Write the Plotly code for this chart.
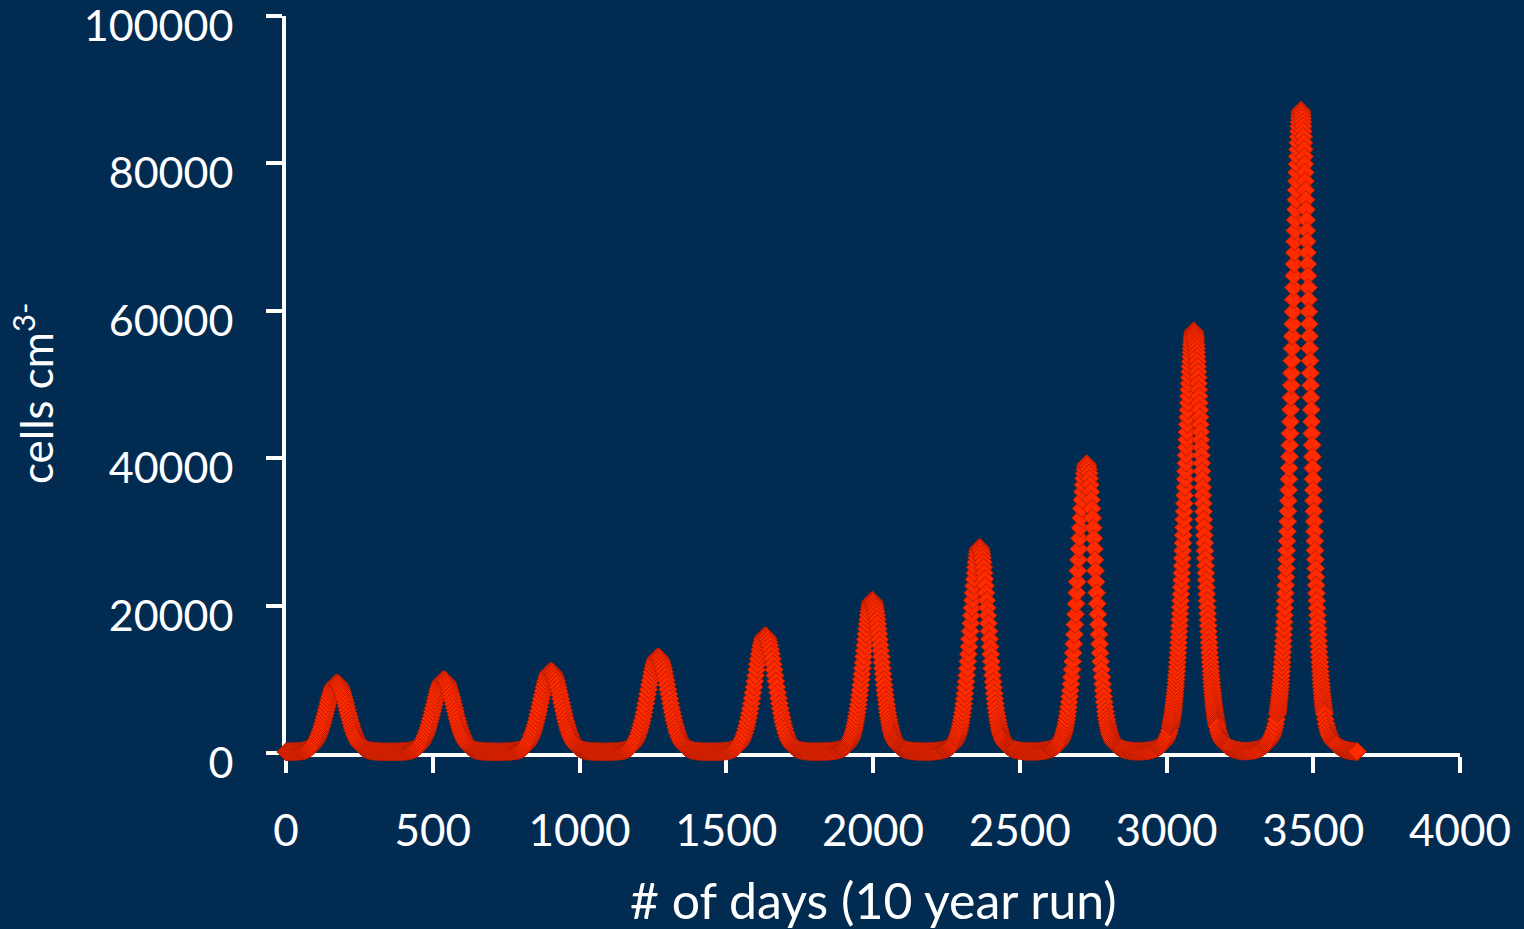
import plotly.graph_objects as go

# ---------------- data ----------------
# day of each yearly bloom peak
peak_days = [173, 538, 903, 1268, 1633, 1998, 2363, 2728, 3093, 3458]

# day offsets (relative to each peak) at which the curve was read
wide_offsets = list(range(-122, -69, 4)) + list(range(-66, 67, 3)) + list(range(70, 123, 4))
step2_offsets = list(range(-122, -82, 3)) + list(range(-80, 81, 2)) + list(range(83, 123, 3))
daily_offsets = list(range(-122, -82, 3)) + list(range(-80, 81, 1)) + list(range(83, 123, 3))

# cells cm-3, between blooms (every 5 days)
baseline_start = [160, 165, 170, 175, 180, 185, 195, 205, 220, 235, 260]
gap1_cells = [240, 225, 210, 200, 190, 180, 175, 170, 170, 165, 165, 165, 165, 165, 170, 170, 175, 180, 190, 200, 210, 225, 240, 265]
gap2_cells = [245, 225, 215, 200, 190, 185, 180, 175, 170, 170, 165, 165, 165, 170, 170, 175, 180, 185, 195, 205, 215, 235, 255, 280]
gap3_cells = [255, 235, 220, 205, 195, 185, 180, 175, 175, 170, 170, 170, 170, 170, 175, 180, 185, 190, 200, 215, 230, 245, 270, 300]
gap4_cells = [275, 250, 230, 215, 205, 195, 185, 180, 175, 175, 175, 170, 175, 175, 180, 185, 190, 200, 215, 230, 245, 270, 300, 335]
gap5_cells = [305, 275, 250, 230, 215, 205, 195, 190, 185, 180, 180, 180, 180, 185, 190, 195, 205, 215, 230, 245, 270, 290, 320, 355]
gap6_cells = [325, 295, 275, 250, 235, 220, 210, 200, 195, 190, 190, 190, 190, 195, 200, 210, 225, 240, 260, 280, 310, 340, 380, 430]
gap7_cells = [390, 350, 315, 290, 265, 245, 230, 220, 210, 205, 200, 200, 205, 210, 220, 235, 255, 275, 305, 335, 375, 420, 475, 540]
gap8_cells = [485, 430, 385, 345, 310, 285, 265, 245, 235, 225, 225, 225, 230, 240, 255, 275, 300, 335, 375, 420, 475, 545, 625, 720]
gap9_cells = [640, 560, 490, 435, 385, 350, 315, 290, 275, 265, 260, 260, 270, 285, 310, 340, 380, 430, 490, 560, 650, 750, 875, 1020]
baseline_end = [890, 770, 665, 575, 495, 430, 375, 330, 295, 265, 240, 220, 205, 190]

# cells cm-3 around each bloom
bloom1_cells = [260, 290, 320, 350, 390, 450, 520, 600, 710, 840, 1000, 1190, 1420, 1690,
    2010, 2280, 2580, 2910, 3260, 3640, 4050, 4470, 4920, 5370, 5840, 6300, 6760, 7210, 7630,
    8030, 8390, 8710, 8980, 9200, 9360, 9460, 9490, 9460, 9360, 9200, 8980, 8710, 8390, 8030,
    7630, 7210, 6760, 6300, 5840, 5370, 4920, 4470, 4050, 3640, 3260, 2910, 2580, 2280, 2010,
    1690, 1420, 1190, 1000, 840, 710, 600, 520, 450, 390, 350, 320, 290, 260]
bloom2_cells = [270, 290, 320, 360, 410, 460, 540, 620, 730, 870, 1040, 1240, 1480, 1770,
    2100, 2380, 2700, 3040, 3410, 3810, 4240, 4680, 5150, 5630, 6110, 6600, 7080, 7550, 7990,
    8410, 8790, 9130, 9410, 9640, 9800, 9910, 9940, 9910, 9800, 9640, 9410, 9130, 8790, 8410,
    7990, 7550, 7080, 6600, 6110, 5630, 5150, 4680, 4240, 3810, 3410, 3040, 2700, 2380, 2100,
    1770, 1480, 1240, 1040, 870, 730, 620, 540, 460, 410, 360, 320, 290, 270]
bloom3_cells = [280, 310, 340, 380, 440, 500, 580, 680, 800, 950, 1140, 1360, 1630, 1950,
    2330, 2640, 2990, 3380, 3790, 4240, 4710, 5210, 5730, 6260, 6810, 7350, 7890, 8410, 8910,
    9370, 9800, 10170, 10490, 10740, 10930, 11040, 11080, 11040, 10930, 10740, 10490, 10170, 9800, 9370,
    8910, 8410, 7890, 7350, 6810, 6260, 5730, 5210, 4710, 4240, 3790, 3380, 2990, 2640, 2330,
    1950, 1630, 1360, 1140, 950, 800, 680, 580, 500, 440, 380, 340, 310, 280]
bloom4_cells = [310, 340, 380, 430, 490, 560, 660, 770, 920, 1100, 1320, 1580, 1900, 2270,
    2710, 3090, 3500, 3950, 4440, 4960, 5520, 6110, 6720, 7350, 7990, 8630, 9260, 9870, 10460,
    11010, 11510, 11950, 12320, 12620, 12840, 12980, 13020, 12980, 12840, 12620, 12320, 11950, 11510, 11010,
    10460, 9870, 9260, 8630, 7990, 7350, 6720, 6110, 5520, 4960, 4440, 3950, 3500, 3090, 2710,
    2270, 1900, 1580, 1320, 1100, 920, 770, 660, 560, 490, 430, 380, 340, 310]
bloom5_cells = [340, 380, 430, 490, 560, 650, 770, 910, 1090, 1310, 1580, 1900, 2290, 2750,
    3290, 3740, 4250, 4800, 5400, 6040, 6720, 7440, 8190, 8960, 9740, 10520, 11300, 12050, 12770,
    13440, 14050, 14590, 15050, 15410, 15680, 15850, 15900, 15850, 15680, 15410, 15050, 14590, 14050, 13440,
    12770, 12050, 11300, 10520, 9740, 8960, 8190, 7440, 6720, 6040, 5400, 4800, 4250, 3740, 3290,
    2750, 2290, 1900, 1580, 1310, 1090, 910, 770, 650, 560, 490, 430, 380, 340]
bloom6_cells = [360, 390, 410, 440, 480, 520, 560, 610, 670, 740, 830, 930, 1050, 1190,
    1370, 1500, 1650, 1820, 2010, 2230, 2460, 2730, 3020, 3350,
    3710, 4100, 4520, 4990, 5490, 6030, 6600, 7210, 7860, 8530,
    9240, 9970, 10730, 11500, 12280, 13070, 13860, 14630, 15400, 16140,
    16840, 17510, 18140, 18710, 19210, 19660, 20030, 20320, 20530, 20660,
    20700,
    20660, 20530, 20320, 20030, 19660, 19210, 18710, 18140, 17510, 16840,
    16140, 15400, 14630, 13860, 13070, 12280, 11500, 10730, 9970, 9240,
    8530, 7860, 7210, 6600, 6030, 5490, 4990, 4520, 4100, 3710,
    3350, 3020, 2730, 2460, 2230, 2010, 1820, 1650, 1500, 1370,
    1190, 1050, 930, 830, 740, 670, 610, 560, 520, 480, 440, 410, 390, 360]
bloom7_cells = [440, 470, 510, 550, 590, 650, 710, 780, 860, 950, 1070, 1200, 1360, 1560,
    1790, 1970, 2180, 2410, 2660, 2950, 3270, 3630, 4030, 4470,
    4950, 5480, 6060, 6680, 7360, 8080, 8860, 9680, 10550, 11470,
    12420, 13410, 14430, 15470, 16520, 17590, 18650, 19700, 20730, 21730,
    22680, 23590, 24430, 25200, 25880, 26480, 26980, 27370, 27660, 27830,
    27890,
    27830, 27660, 27370, 26980, 26480, 25880, 25200, 24430, 23590, 22680,
    21730, 20730, 19700, 18650, 17590, 16520, 15470, 14430, 13410, 12420,
    11470, 10550, 9680, 8860, 8080, 7360, 6680, 6060, 5480, 4950,
    4470, 4030, 3630, 3270, 2950, 2660, 2410, 2180, 1970, 1790,
    1560, 1360, 1200, 1070, 950, 860, 780, 710, 650, 590, 550, 510, 470, 440]
bloom8_cells = [550, 600, 650, 710, 780, 850, 930, 1030, 1150, 1280, 1440, 1630, 1860, 2130,
    2460, 2720, 3000, 3330, 3690, 4100, 4550, 5050, 5610, 6230,
    6910, 7660, 8470, 9350, 10300, 11320, 12420, 13580, 14800, 16090,
    17430, 18830, 20260, 21730, 23220, 24720, 26210, 27690, 29140, 30550,
    31900, 33170, 34360, 35440, 36400, 37240, 37950, 38500, 38910, 39150,
    39230,
    39150, 38910, 38500, 37950, 37240, 36400, 35440, 34360, 33170, 31900,
    30550, 29140, 27690, 26210, 24720, 23220, 21730, 20260, 18830, 17430,
    16090, 14800, 13580, 12420, 11320, 10300, 9350, 8470, 7660, 6910,
    6230, 5610, 5050, 4550, 4100, 3690, 3330, 3000, 2720, 2460,
    2130, 1860, 1630, 1440, 1280, 1150, 1030, 930, 850, 780, 710, 650, 600, 550]
bloom9_cells = [740, 810, 880, 970, 1060, 1170, 1300, 1440, 1610, 1800, 2040, 2310, 2650, 3050,
    3530, 3710, 3900, 4100, 4320, 4550, 4790, 5050, 5320, 5610,
    5920, 6240, 6580, 6940, 7320, 7720, 8130, 8580, 9040, 9520,
    10030, 10560, 11120, 11700, 12310, 12940, 13600, 14280, 14990, 15720,
    16480, 17270, 18080, 18910, 19770, 20660, 21560, 22490, 23450, 24420,
    25410, 26420, 27440, 28490, 29540, 30610, 31680, 32770, 33860, 34950,
    36050, 37150, 38240, 39320, 40400, 41470, 42520, 43560, 44580, 45570,
    46540, 47490, 48400, 49290, 50140, 50950, 51720, 52440, 53130, 53770,
    54360, 54900, 55380, 55820, 56200, 56520, 56790, 56990, 57140, 57230,
    57260,
    57230, 57140, 56990, 56790, 56520, 56200, 55820, 55380, 54900, 54360,
    53770, 53130, 52440, 51720, 50950, 50140, 49290, 48400, 47490, 46540,
    45570, 44580, 43560, 42520, 41470, 40400, 39320, 38240, 37150, 36050,
    34950, 33860, 32770, 31680, 30610, 29540, 28490, 27440, 26420, 25410,
    24420, 23450, 22490, 21560, 20660, 19770, 18910, 18080, 17270, 16480,
    15720, 14990, 14280, 13600, 12940, 12310, 11700, 11120, 10560, 10030,
    9520, 9040, 8580, 8130, 7720, 7320, 6940, 6580, 6240, 5920,
    5610, 5320, 5050, 4790, 4550, 4320, 4100, 3900, 3710, 3530,
    3050, 2650, 2310, 2040, 1800, 1610, 1440, 1300, 1170, 1060, 970, 880, 810, 740]
bloom10_cells = [1050, 1150, 1270, 1400, 1540, 1710, 1900, 2120, 2370, 2670, 3030, 3450, 3960, 4570,
    5300, 5580, 5870, 6180, 6510, 6860, 7230, 7620, 8040, 8480,
    8940, 9430, 9950, 10500, 11080, 11690, 12320, 13000, 13700, 14440,
    15220, 16030, 16880, 17760, 18690, 19650, 20650, 21690, 22770, 23890,
    25050, 26250, 27480, 28760, 30070, 31420, 32800, 34220, 35670, 37150,
    38660, 40200, 41770, 43360, 44960, 46590, 48230, 49890, 51550, 53220,
    54890, 56560, 58220, 59880, 61520, 63150, 64760, 66340, 67890, 69410,
    70890, 72330, 73730, 75070, 76370, 77600, 78780, 79890, 80930, 81910,
    82810, 83630, 84370, 85030, 85610, 86100, 86510, 86820, 87050, 87180,
    87230,
    87180, 87050, 86820, 86510, 86100, 85610, 85030, 84370, 83630, 82810,
    81910, 80930, 79890, 78780, 77600, 76370, 75070, 73730, 72330, 70890,
    69410, 67890, 66340, 64760, 63150, 61520, 59880, 58220, 56560, 54890,
    53220, 51550, 49890, 48230, 46590, 44960, 43360, 41770, 40200, 38660,
    37150, 35670, 34220, 32800, 31420, 30070, 28760, 27480, 26250, 25050,
    23890, 22770, 21690, 20650, 19650, 18690, 17760, 16880, 16030, 15220,
    14440, 13700, 13000, 12320, 11690, 11080, 10500, 9950, 9430, 8940,
    8480, 8040, 7620, 7230, 6860, 6510, 6180, 5870, 5580, 5300,
    4570, 3960, 3450, 3030, 2670, 2370, 2120, 1900, 1710, 1540, 1400, 1270, 1150, 1050]

x_tick_vals = [0, 500, 1000, 1500, 2000, 2500, 3000, 3500, 4000]
x_tick_text = ["0", "500", "1000", "1500", "2000", "2500", "3000", "3500", "4000"]
y_tick_vals = [0, 20000, 40000, 60000, 80000, 100000]
y_tick_text = ["0", "20000", "40000", "60000", "80000", "100000"]

# ---------------- assemble the daily series ----------------
bloom_cells = [bloom1_cells, bloom2_cells, bloom3_cells, bloom4_cells, bloom5_cells,
               bloom6_cells, bloom7_cells, bloom8_cells, bloom9_cells, bloom10_cells]
bloom_offsets = [wide_offsets] * 5 + [step2_offsets] * 3 + [daily_offsets] * 2
gap_cells = [gap1_cells, gap2_cells, gap3_cells, gap4_cells, gap5_cells,
             gap6_cells, gap7_cells, gap8_cells, gap9_cells]

segments = [(list(range(0, 51, 5)), baseline_start)]
for k in range(10):
    segments.append(([peak_days[k] + o for o in bloom_offsets[k]], bloom_cells[k]))
    if k < 9:
        segments.append((list(range(peak_days[k] + 127, peak_days[k + 1] - 122, 5)), gap_cells[k]))
segments.append((list(range(peak_days[9] + 127, 3651, 5)), baseline_end))

days, cells = [], []
for i, (d, c) in enumerate(segments):
    if len(d) != len(c):
        raise ValueError(f"segment {i}: {len(d)} days vs {len(c)} values")
    days += d
    cells += c

# ---------------- figure ----------------
BG = "#022b52"
FONT = "Lato, 'Open Sans', sans-serif"

fig = go.Figure(go.Scatter(
    x=days, y=cells, mode="markers", cliponaxis=False, hoverinfo="skip",
    marker=dict(symbol="diamond", size=14, color="#ff2a00",
                line=dict(color="#b81c00", width=1)),
))

axis_common = dict(
    showline=True, linewidth=4, linecolor="white",
    ticks="outside", ticklen=16, tickwidth=4, tickcolor="white",
    showgrid=False, zeroline=False, layer="below traces",
    ticklabeloverflow="allow", automargin=False,
)
fig.update_xaxes(range=[0, 4000], tickmode="array", tickvals=x_tick_vals,
                 ticktext=x_tick_text, ticklabelstandoff=20,
                 tickfont=dict(family=FONT, size=44, color="white"), **axis_common)
fig.update_yaxes(range=[0, 100000], tickmode="array", tickvals=y_tick_vals,
                 ticktext=y_tick_text, ticklabelstandoff=24, ticklabelshift=10,
                 tickfont=dict(family=FONT, size=43, color="white"), **axis_common)

fig.update_layout(
    width=1524, height=929,
    paper_bgcolor=BG, plot_bgcolor=BG,
    margin=dict(l=286, r=64, t=16, b=176),
    showlegend=False,
    font=dict(family=FONT, color="white"),
    annotations=[
        dict(text="# of days (10 year run)", xref="paper", yref="paper",
             x=0.5, y=-0.199, xanchor="center", yanchor="middle", showarrow=False,
             font=dict(family=FONT, size=50, color="white")),
        dict(text="cells cm<sup>3-</sup>", xref="paper", yref="paper",
             x=-0.2155, y=0.487, xanchor="center", yanchor="middle", showarrow=False,
             textangle=-90, font=dict(family=FONT, size=44, color="white")),
    ],
)

fig.write_html(
    "out.html",
    config={"displayModeBar": False},
    post_script="document.body.style.margin='0px'; document.body.style.overflow='hidden';",
)
